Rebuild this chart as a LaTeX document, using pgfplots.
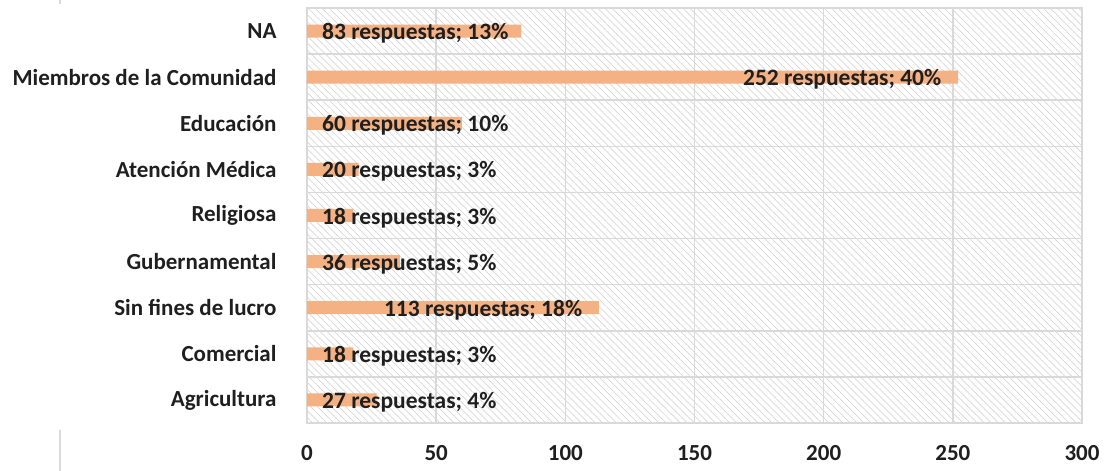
\documentclass[border=0pt]{standalone}
\usepackage{pgfplots}
\pgfplotsset{compat=1.18}
\usepackage{fontspec}
\setmainfont{Carlito}
\usetikzlibrary{patterns.meta}
\definecolor{gridgray}{HTML}{D9D9D9}
\definecolor{hatch}{HTML}{D6D6D6}
\definecolor{barc}{HTML}{F4B183}
\definecolor{txt}{HTML}{1F1F1F}
\begin{document}
\begin{tikzpicture}
\useasboundingbox (0,0) rectangle (1104pt,471pt);
\draw[gridgray, line width=1.5pt] (60pt,0pt) -- (60pt,41pt);
\draw[gridgray, line width=1.5pt] (60pt,467pt) -- (60pt,471pt);
\begin{axis}[
  at={(307pt,48pt)}, anchor=south west,
  scale only axis, width=775pt, height=415pt,
  xbar, bar width=13pt,
  xmin=0, xmax=300, ymin=-0.5, ymax=8.5,
  xtick={0,50,...,300},
  ytick={0,...,8},
  yticklabels={Agricultura,Comercial,Sin fines de lucro,Gubernamental,Religiosa,Atención Médica,Educación,Miembros de la Comunidad,NA},
  minor ytick={-0.5,0.5,...,8.5},
  xmajorgrids, yminorgrids,
  grid style={gridgray, line width=1.5pt},
  minor grid style={gridgray, line width=1.5pt},
  axis line style={gridgray, line width=1.5pt},
  major tick length=0pt,
  minor tick length=7pt,
  minor tick style={gridgray, line width=1.5pt},
  tick align=outside,
  ytick style={draw=none},
  xtick style={draw=none},
  axis background/.style={pattern={Lines[angle=-45, distance=5pt, line width=0.7pt]}, pattern color=hatch},
  ticklabel style={font=\fontsize{23}{27}\selectfont\bfseries, text=txt},
  yticklabel style={xshift=-27pt},
  xticklabel style={yshift=-19pt},
  /pgf/number format/assume math mode=true,
  clip=false,
]
\addplot[fill=barc, draw=none] coordinates {(27,0) (18,1) (113,2) (36,3) (18,4) (20,5) (60,6) (252,7) (83,8)};
\begin{scope}[every node/.style={font=\fontsize{23.5}{27}\selectfont\bfseries, text=txt, inner sep=0pt}]
\node[anchor=west] at (axis cs:5.8,-0.05) {27 respuestas; 4\%};
\node[anchor=west] at (axis cs:5.8,0.95) {18 respuestas; 3\%};
\node[anchor=east] at (axis cs:106.6,1.95) {113 respuestas; 18\%};
\node[anchor=west] at (axis cs:5.8,2.95) {36 respuestas; 5\%};
\node[anchor=west] at (axis cs:5.8,3.95) {18 respuestas; 3\%};
\node[anchor=west] at (axis cs:5.8,4.95) {20 respuestas; 3\%};
\node[anchor=west] at (axis cs:5.8,5.95) {60 respuestas; 10\%};
\node[anchor=east] at (axis cs:245.6,6.95) {252 respuestas; 40\%};
\node[anchor=west] at (axis cs:5.8,7.95) {83 respuestas; 13\%};
\end{scope}
\end{axis}
\end{tikzpicture}
\end{document}
